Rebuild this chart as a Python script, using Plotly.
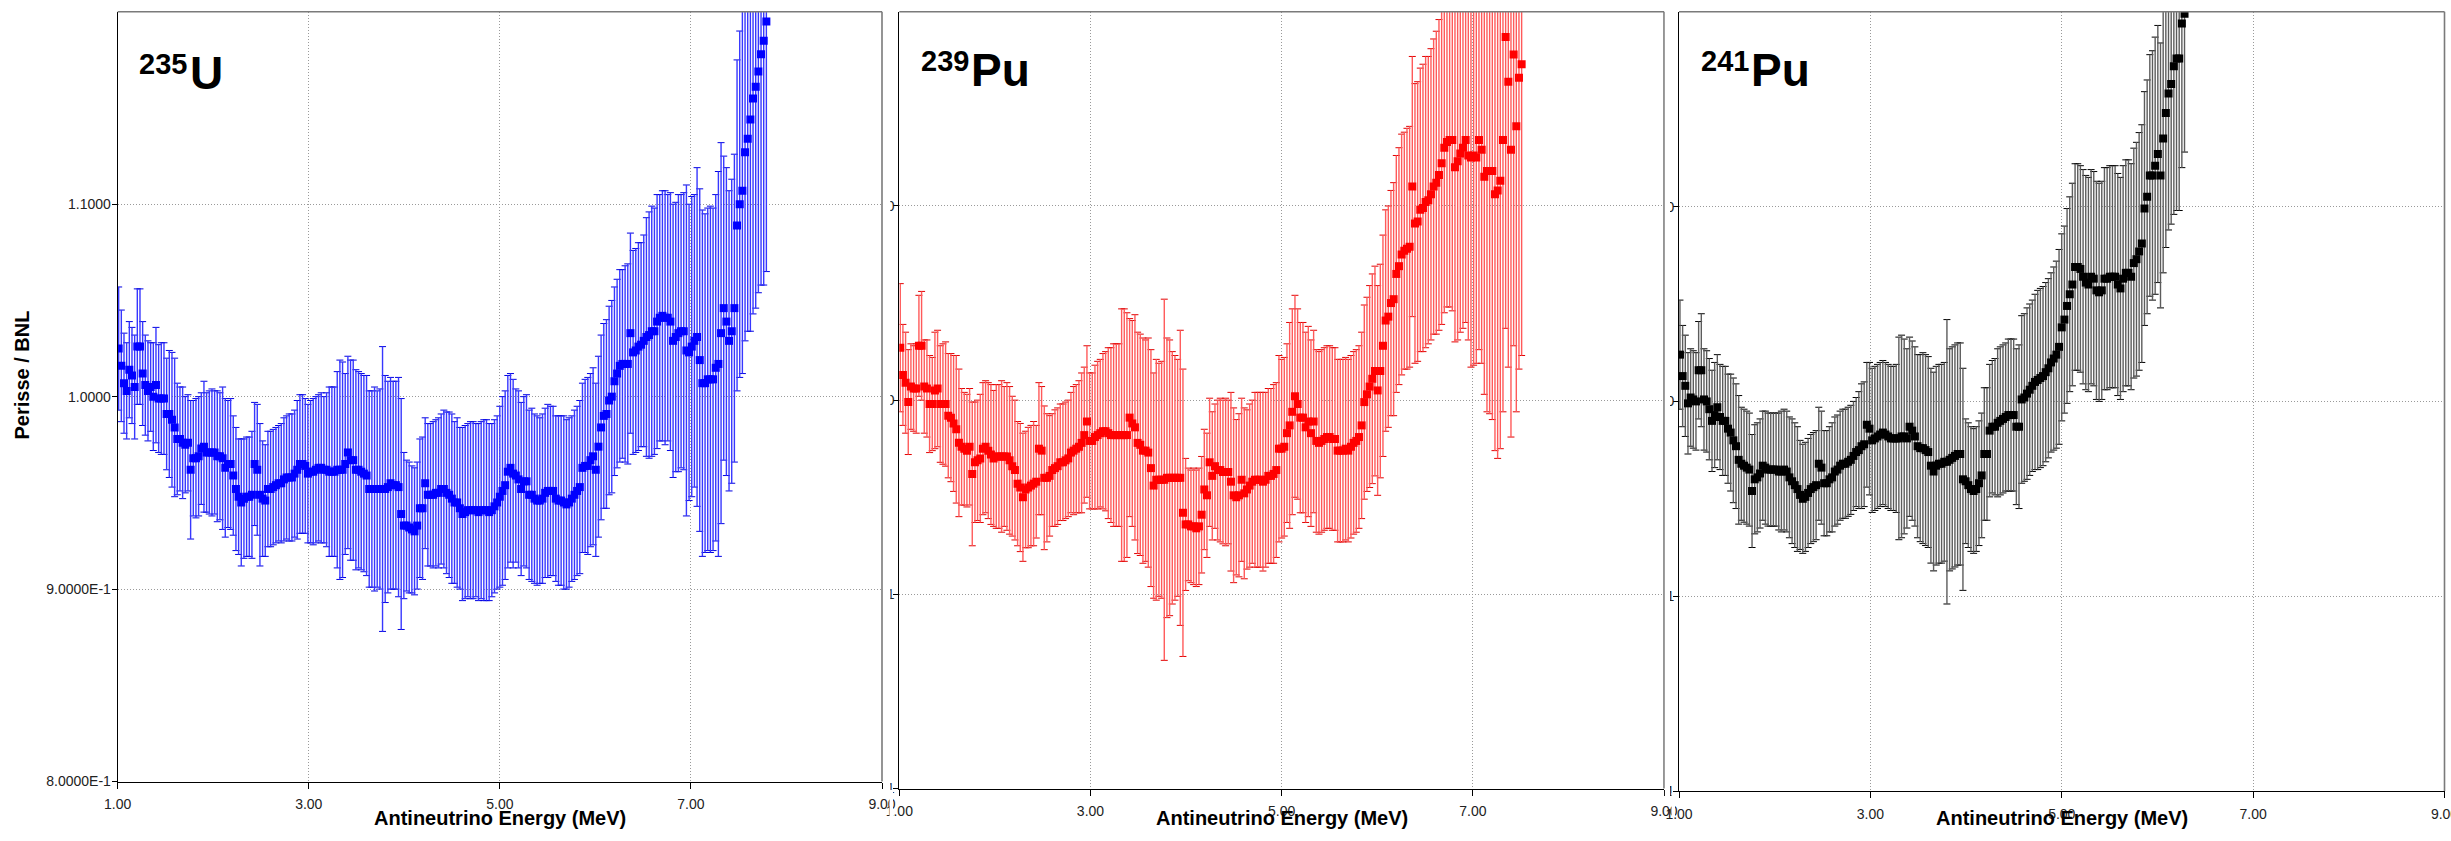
import numpy as np
import plotly.graph_objects as go

# ---------------------------------------------------------------------------
# Perisse / BNL spectrum ratios versus antineutrino energy
# ---------------------------------------------------------------------------
E_START = 1.01      # first bin centre (MeV)
E_STEP = 0.0279     # bin width (MeV)

u235_ratio = [
    1.025, 1.016, 1.007, 1.003, 1.014, 1.011, 1.005, 1.026, 1.026, 1.012,
    1.006, 1.003, 1.005, 1.000, 1.006, 0.999, 0.999, 0.999, 0.991, 0.991,
    0.988, 0.984, 0.978, 0.978, 0.976, 0.975, 0.976, 0.962, 0.968, 0.968,
    0.969, 0.973, 0.974, 0.971, 0.971, 0.971, 0.971, 0.969, 0.969, 0.968,
    0.963, 0.965, 0.965, 0.959, 0.952, 0.948, 0.945, 0.947, 0.948, 0.948,
    0.949, 0.965, 0.962, 0.949, 0.947, 0.946, 0.952, 0.952, 0.953, 0.954,
    0.955, 0.955, 0.957, 0.958, 0.958, 0.958, 0.960, 0.962, 0.965, 0.965,
    0.964, 0.960, 0.961, 0.961, 0.962, 0.963, 0.963, 0.962, 0.962, 0.961,
    0.961, 0.961, 0.962, 0.962, 0.962, 0.965, 0.971, 0.967, 0.967, 0.962,
    0.962, 0.961, 0.960, 0.959, 0.952, 0.952, 0.952, 0.952, 0.952, 0.952,
    0.952, 0.953, 0.955, 0.954, 0.954, 0.953, 0.939, 0.933, 0.933, 0.932,
    0.931, 0.930, 0.933, 0.942, 0.942, 0.955, 0.949, 0.949, 0.949, 0.950,
    0.950, 0.952, 0.952, 0.950, 0.949, 0.947, 0.945, 0.945, 0.942, 0.939,
    0.940, 0.941, 0.941, 0.941, 0.941, 0.940, 0.941, 0.941, 0.941, 0.940,
    0.941, 0.943, 0.945, 0.948, 0.951, 0.954, 0.961, 0.963, 0.960, 0.959,
    0.957, 0.952, 0.956, 0.956, 0.949, 0.949, 0.947, 0.946, 0.946, 0.947,
    0.950, 0.951, 0.951, 0.951, 0.947, 0.946, 0.946, 0.945, 0.944, 0.945,
    0.947, 0.949, 0.951, 0.953, 0.963, 0.964, 0.964, 0.967, 0.969, 0.962,
    0.974, 0.984, 0.990, 0.991, 0.998, 1.000, 1.008, 1.012, 1.016, 1.017,
    1.017, 1.017, 1.033, 1.023, 1.024, 1.026, 1.027, 1.029, 1.031, 1.032,
    1.034, 1.034, 1.039, 1.041, 1.042, 1.041, 1.041, 1.039, 1.029, 1.031,
    1.033, 1.034, 1.034, 1.024, 1.023, 1.026, 1.029, 1.031, 1.019, 1.007,
    1.007, 1.009, 1.009, 1.009, 1.015, 1.017, 1.033, 1.046, 1.039, 1.029,
    1.034, 1.046, 1.089, 1.100, 1.107, 1.127, 1.134, 1.144, 1.155, 1.161,
    1.169, 1.178, 1.185, 1.195,
]
u235_err = [
    0.032, 0.029, 0.026, 0.025, 0.025, 0.025, 0.027, 0.030, 0.030, 0.027,
    0.026, 0.026, 0.023, 0.028, 0.030, 0.028, 0.029, 0.029, 0.029, 0.033,
    0.035, 0.036, 0.029, 0.027, 0.029, 0.025, 0.025, 0.036, 0.030, 0.031,
    0.031, 0.029, 0.034, 0.031, 0.032, 0.033, 0.032, 0.034, 0.033, 0.037,
    0.036, 0.033, 0.034, 0.031, 0.032, 0.030, 0.033, 0.031, 0.031, 0.031,
    0.033, 0.032, 0.034, 0.037, 0.030, 0.029, 0.030, 0.030, 0.030, 0.030,
    0.030, 0.031, 0.032, 0.032, 0.033, 0.033, 0.033, 0.036, 0.036, 0.036,
    0.035, 0.036, 0.037, 0.038, 0.038, 0.038, 0.039, 0.038, 0.040, 0.044,
    0.044, 0.044, 0.051, 0.057, 0.056, 0.047, 0.050, 0.052, 0.052, 0.052,
    0.051, 0.051, 0.051, 0.052, 0.051, 0.051, 0.053, 0.051, 0.052, 0.074,
    0.059, 0.055, 0.055, 0.054, 0.054, 0.057, 0.060, 0.038, 0.034, 0.034,
    0.033, 0.033, 0.033, 0.036, 0.037, 0.034, 0.037, 0.037, 0.038, 0.038,
    0.039, 0.039, 0.041, 0.042, 0.043, 0.044, 0.042, 0.044, 0.042, 0.045,
    0.045, 0.045, 0.046, 0.046, 0.045, 0.046, 0.046, 0.047, 0.047, 0.046,
    0.045, 0.045, 0.045, 0.047, 0.049, 0.049, 0.050, 0.049, 0.049, 0.045,
    0.046, 0.045, 0.044, 0.045, 0.044, 0.045, 0.044, 0.044, 0.043, 0.044,
    0.044, 0.045, 0.044, 0.044, 0.043, 0.044, 0.044, 0.045, 0.044, 0.044,
    0.043, 0.044, 0.044, 0.045, 0.044, 0.045, 0.046, 0.045, 0.046, 0.045,
    0.047, 0.048, 0.048, 0.049, 0.049, 0.050, 0.049, 0.049, 0.050, 0.049,
    0.051, 0.052, 0.052, 0.053, 0.053, 0.054, 0.053, 0.055, 0.062, 0.064,
    0.065, 0.064, 0.066, 0.064, 0.065, 0.066, 0.064, 0.067, 0.071, 0.070,
    0.072, 0.071, 0.072, 0.086, 0.077, 0.078, 0.076, 0.088, 0.089, 0.090,
    0.088, 0.089, 0.090, 0.089, 0.090, 0.100, 0.099, 0.079, 0.080, 0.078,
    0.079, 0.080, 0.086, 0.090, 0.095, 0.098, 0.100, 0.110, 0.112, 0.115,
    0.115, 0.120, 0.127, 0.130,
]

pu239_ratio = [
    1.027, 1.013, 1.009, 0.999, 1.007, 1.006, 1.006, 1.028, 1.028, 1.007,
    1.006, 0.998, 0.998, 1.005, 1.006, 0.998, 0.998, 0.998, 0.992, 0.991,
    0.988, 0.985, 0.978, 0.976, 0.975, 0.974, 0.976, 0.962, 0.968, 0.969,
    0.970, 0.975, 0.976, 0.974, 0.972, 0.970, 0.971, 0.971, 0.971, 0.971,
    0.971, 0.969, 0.966, 0.964, 0.957, 0.955, 0.950, 0.954, 0.955, 0.956,
    0.957, 0.958, 0.975, 0.974, 0.960, 0.960, 0.961, 0.964, 0.965, 0.966,
    0.968, 0.968, 0.969, 0.970, 0.973, 0.974, 0.975, 0.976, 0.978, 0.982,
    0.989, 0.979, 0.979, 0.981, 0.982, 0.983, 0.984, 0.984, 0.983, 0.982,
    0.982, 0.982, 0.982, 0.982, 0.982, 0.982, 0.991, 0.988, 0.986, 0.978,
    0.977, 0.974, 0.974, 0.973, 0.965, 0.956, 0.959, 0.959, 0.959, 0.959,
    0.960, 0.960, 0.960, 0.960, 0.960, 0.960, 0.942, 0.936, 0.936, 0.935,
    0.935, 0.934, 0.935, 0.941, 0.954, 0.951, 0.968, 0.961, 0.966, 0.964,
    0.964, 0.963, 0.963, 0.963, 0.958, 0.951, 0.950, 0.951, 0.959, 0.952,
    0.954, 0.956, 0.958, 0.959, 0.959, 0.959, 0.958, 0.959, 0.961, 0.961,
    0.962, 0.964, 0.975, 0.975, 0.976, 0.983, 0.987, 0.994, 1.002, 0.998,
    0.991, 0.991, 0.986, 0.989, 0.983, 0.989, 0.979, 0.978, 0.979, 0.980,
    0.981, 0.981, 0.980, 0.980, 0.974, 0.974, 0.974, 0.975, 0.974, 0.976,
    0.978, 0.979, 0.981, 0.987, 0.999, 1.003, 1.007, 1.011, 1.015, 1.005,
    1.015, 1.028, 1.041, 1.043, 1.050, 1.052, 1.065, 1.069, 1.075, 1.077,
    1.078, 1.079, 1.110, 1.091, 1.092, 1.098, 1.099, 1.102, 1.103, 1.106,
    1.110, 1.112, 1.116, 1.122, 1.130, 1.133, 1.134, 1.134, 1.120, 1.123,
    1.127, 1.130, 1.134, 1.126, 1.125, 1.126, 1.125, 1.134, 1.129, 1.115,
    1.118, 1.118, 1.118, 1.106, 1.108, 1.113, 1.134, 1.187, 1.164, 1.129,
    1.178, 1.141, 1.166, 1.173,
]
pu239_err = [
    0.033, 0.026, 0.026, 0.027, 0.022, 0.022, 0.023, 0.026, 0.028, 0.024,
    0.025, 0.025, 0.024, 0.030, 0.030, 0.030, 0.031, 0.032, 0.032, 0.033,
    0.035, 0.038, 0.038, 0.030, 0.029, 0.029, 0.030, 0.037, 0.031, 0.031,
    0.033, 0.034, 0.034, 0.035, 0.036, 0.035, 0.037, 0.037, 0.039, 0.036,
    0.038, 0.038, 0.036, 0.036, 0.032, 0.033, 0.033, 0.030, 0.031, 0.031,
    0.032, 0.029, 0.034, 0.033, 0.037, 0.033, 0.031, 0.029, 0.030, 0.030,
    0.030, 0.030, 0.030, 0.030, 0.031, 0.033, 0.033, 0.034, 0.036, 0.035,
    0.039, 0.035, 0.035, 0.037, 0.038, 0.038, 0.040, 0.041, 0.044, 0.045,
    0.047, 0.047, 0.047, 0.065, 0.065, 0.063, 0.051, 0.053, 0.058, 0.057,
    0.057, 0.058, 0.057, 0.059, 0.061, 0.058, 0.062, 0.060, 0.061, 0.093,
    0.072, 0.071, 0.065, 0.063, 0.061, 0.076, 0.074, 0.034, 0.029, 0.029,
    0.030, 0.030, 0.030, 0.030, 0.031, 0.032, 0.033, 0.033, 0.032, 0.036,
    0.037, 0.037, 0.038, 0.037, 0.046, 0.045, 0.040, 0.042, 0.042, 0.044,
    0.041, 0.042, 0.042, 0.045, 0.045, 0.045, 0.046, 0.045, 0.045, 0.045,
    0.046, 0.045, 0.048, 0.046, 0.046, 0.046, 0.053, 0.053, 0.052, 0.049,
    0.049, 0.049, 0.049, 0.049, 0.048, 0.047, 0.047, 0.047, 0.047, 0.047,
    0.047, 0.047, 0.047, 0.047, 0.047, 0.047, 0.047, 0.047, 0.047, 0.047,
    0.047, 0.047, 0.047, 0.048, 0.050, 0.050, 0.052, 0.054, 0.054, 0.054,
    0.055, 0.057, 0.057, 0.057, 0.058, 0.060, 0.061, 0.061, 0.062, 0.061,
    0.062, 0.062, 0.067, 0.072, 0.072, 0.073, 0.074, 0.075, 0.074, 0.075,
    0.076, 0.078, 0.080, 0.083, 0.085, 0.085, 0.086, 0.088, 0.090, 0.092,
    0.092, 0.093, 0.094, 0.095, 0.108, 0.108, 0.106, 0.108, 0.110, 0.112,
    0.124, 0.125, 0.128, 0.132, 0.138, 0.138, 0.140, 0.150, 0.147, 0.148,
    0.150, 0.147, 0.150, 0.150,
]

pu241_ratio = [
    1.024, 1.013, 1.008, 0.999, 1.002, 1.001, 1.000, 1.016, 1.016, 1.001,
    1.000, 0.996, 0.990, 0.993, 0.997, 0.992, 0.990, 0.990, 0.986, 0.984,
    0.980, 0.977, 0.970, 0.968, 0.967, 0.966, 0.965, 0.954, 0.960, 0.961,
    0.963, 0.967, 0.966, 0.965, 0.965, 0.965, 0.965, 0.964, 0.964, 0.965,
    0.964, 0.961, 0.959, 0.957, 0.955, 0.952, 0.950, 0.951, 0.953, 0.955,
    0.956, 0.957, 0.968, 0.966, 0.958, 0.958, 0.960, 0.961, 0.964, 0.965,
    0.967, 0.968, 0.968, 0.969, 0.970, 0.972, 0.974, 0.975, 0.977, 0.978,
    0.988, 0.986, 0.980, 0.981, 0.982, 0.983, 0.984, 0.983, 0.982, 0.981,
    0.981, 0.981, 0.981, 0.982, 0.982, 0.981, 0.987, 0.985, 0.982, 0.977,
    0.976, 0.976, 0.975, 0.974, 0.967, 0.964, 0.967, 0.968, 0.968, 0.969,
    0.969, 0.970, 0.971, 0.972, 0.973, 0.973, 0.960, 0.959, 0.957, 0.955,
    0.954, 0.955, 0.958, 0.962, 0.973, 0.973, 0.985, 0.987, 0.987, 0.989,
    0.990, 0.991, 0.992, 0.993, 0.993, 0.993, 0.987, 0.987, 1.001, 1.002,
    1.004, 1.006, 1.008, 1.010, 1.011, 1.012, 1.013, 1.015, 1.017, 1.020,
    1.022, 1.024, 1.028, 1.038, 1.042, 1.049, 1.055, 1.060, 1.069, 1.069,
    1.068, 1.064, 1.061, 1.060, 1.064, 1.063, 1.057, 1.056, 1.057, 1.063,
    1.063, 1.064, 1.064, 1.064, 1.060, 1.058, 1.063, 1.066, 1.066, 1.064,
    1.071, 1.073, 1.077, 1.081, 1.099, 1.105, 1.116, 1.116, 1.121, 1.127,
    1.116, 1.135, 1.148, 1.158, 1.163, 1.172, 1.176, 1.176, 1.194, 1.199,
]
pu241_err = [
    0.028, 0.026, 0.026, 0.026, 0.025, 0.025, 0.025, 0.025, 0.029, 0.026,
    0.026, 0.026, 0.026, 0.027, 0.027, 0.027, 0.028, 0.028, 0.028, 0.030,
    0.032, 0.032, 0.033, 0.029, 0.029, 0.029, 0.029, 0.029, 0.028, 0.028,
    0.028, 0.028, 0.029, 0.029, 0.029, 0.029, 0.029, 0.030, 0.031, 0.031,
    0.031, 0.031, 0.032, 0.032, 0.032, 0.028, 0.028, 0.028, 0.028, 0.028,
    0.028, 0.028, 0.029, 0.029, 0.027, 0.027, 0.027, 0.028, 0.028, 0.028,
    0.028, 0.028, 0.028, 0.028, 0.028, 0.028, 0.028, 0.030, 0.032, 0.032,
    0.032, 0.034, 0.037, 0.037, 0.037, 0.037, 0.037, 0.037, 0.037, 0.037,
    0.037, 0.038, 0.052, 0.052, 0.050, 0.046, 0.046, 0.046, 0.046, 0.047,
    0.048, 0.049, 0.049, 0.049, 0.050, 0.051, 0.051, 0.051, 0.051, 0.051,
    0.073, 0.057, 0.057, 0.057, 0.057, 0.057, 0.057, 0.032, 0.032, 0.032,
    0.032, 0.032, 0.032, 0.032, 0.034, 0.034, 0.034, 0.034, 0.035, 0.038,
    0.038, 0.038, 0.038, 0.039, 0.039, 0.039, 0.040, 0.042, 0.043, 0.043,
    0.044, 0.044, 0.044, 0.045, 0.046, 0.046, 0.046, 0.046, 0.046, 0.046,
    0.047, 0.048, 0.050, 0.048, 0.048, 0.050, 0.050, 0.052, 0.053, 0.053,
    0.053, 0.055, 0.055, 0.055, 0.055, 0.055, 0.056, 0.056, 0.056, 0.057,
    0.057, 0.057, 0.057, 0.057, 0.057, 0.057, 0.058, 0.058, 0.058, 0.058,
    0.059, 0.060, 0.061, 0.061, 0.060, 0.060, 0.062, 0.064, 0.066, 0.066,
    0.068, 0.069, 0.069, 0.070, 0.072, 0.076, 0.078, 0.078, 0.074, 0.071,
]

AXIS_TICKS_X = [1, 3, 5, 7, 9]
AXIS_LABELS_X = ["1.00", "3.00", "5.00", "7.00", "9.00"]
AXIS_TICKS_Y = [0.8, 0.9, 1.0, 1.1]
AXIS_LABELS_Y = ["8.0000E-1", "9.0000E-1", "1.0000", "1.1000"]
# the inner panels only keep the last character of their y labels
AXIS_LABELS_Y_CUT = [s[-1] for s in AXIS_LABELS_Y]

panels = [
    dict(sup="235", sym="U", ratio=u235_ratio, err=u235_err,
         marker="#0000ff", stem="rgb(55,55,255)", cap="rgb(0,0,225)"),
    dict(sup="239", sym="Pu", ratio=pu239_ratio, err=pu239_err,
         marker="#ff0000", stem="rgb(255,90,90)", cap="rgb(225,0,0)"),
    dict(sup="241", sym="Pu", ratio=pu241_ratio, err=pu241_err,
         marker="#000000", stem="rgb(92,92,92)", cap="rgb(0,0,0)"),
]

# page geometry (pixels)
W, H = 2451, 841
frames = [
    (117.7, 882.0, 11.8, 781.5),
    (899.3, 1664.0, 11.8, 788.5),
    (1679.0, 2444.5, 11.8, 791.0),
]


def px(x):
    return x / W


def py(y):
    return 1 - y / H


FONT = "Liberation Sans, Arial, sans-serif"
fig = go.Figure()

for k, (p, (x0, x1, y0, y1)) in enumerate(zip(panels, frames), start=1):
    n = len(p["ratio"])
    energy = np.round(E_START + E_STEP * np.arange(n), 4)
    ratio = np.array(p["ratio"])
    err = np.array(p["err"])
    xa, ya = ("x", "y") if k == 1 else (f"x{k}", f"y{k}")

    # error-bar end caps
    fig.add_trace(go.Scatter(
        x=np.concatenate([energy, energy]),
        y=np.concatenate([ratio + err, ratio - err]),
        mode="markers", xaxis=xa, yaxis=ya, showlegend=False, hoverinfo="skip",
        marker=dict(symbol="line-ew", size=5, color=p["cap"],
                    line=dict(color=p["cap"], width=1)),
    ))
    # points with their error bars
    fig.add_trace(go.Scatter(
        x=energy, y=ratio, mode="markers", xaxis=xa, yaxis=ya, showlegend=False,
        marker=dict(symbol="square", size=8, color=p["marker"], line=dict(width=0)),
        error_y=dict(type="data", array=err, symmetric=True, color=p["stem"],
                     thickness=1.4, width=0),
    ))

    axis_common = dict(
        showline=True, linecolor="black", linewidth=1, mirror=False,
        ticks="outside", tickcolor="black", zeroline=False, automargin=False,
        showgrid=True, gridcolor="#9a9a9a", gridwidth=1, griddash="1px,2px",
        tickfont=dict(family=FONT, size=14, color="#222222"),
        ticklabeloverflow="allow",
    )
    fig.layout[f"xaxis{'' if k == 1 else k}"] = dict(
        axis_common, domain=[px(x0), px(x1)], range=[1, 9], anchor=ya,
        tickmode="array", tickvals=AXIS_TICKS_X, ticktext=AXIS_LABELS_X,
        ticklen=6, ticklabelstandoff=4,
    )
    fig.layout[f"yaxis{'' if k == 1 else k}"] = dict(
        axis_common, domain=[py(y1), py(y0)], range=[0.8, 1.2], anchor=xa,
        tickmode="array", tickvals=AXIS_TICKS_Y,
        ticktext=AXIS_LABELS_Y if k == 1 else AXIS_LABELS_Y_CUT,
        ticklen=5, ticklabelstandoff=-2 if k == 1 else -4,
    )

    dref_x = "x domain" if k == 1 else f"x{k} domain"
    dref_y = "y domain" if k == 1 else f"y{k} domain"
    # grey top and right frame edges
    for (a0, b0, a1, b1) in [(0, 1, 1, 1), (1, 0, 1, 1)]:
        fig.add_shape(type="line", xref=dref_x, yref=dref_y,
                      x0=a0, y0=b0, x1=a1, y1=b1,
                      line=dict(color="#7a7a7a", width=1.6))

    # isotope label: mass number raised, element symbol large
    dy = 1 if k == 1 else -2
    fig.add_annotation(
        xref="paper", yref="paper", x=px(x0 + 19.5), y=py(45 + dy),
        xanchor="left", yanchor="top", showarrow=False,
        text=p["sup"], font=dict(family=FONT, size=29, color="black", weight="bold"),
    )
    fig.add_annotation(
        xref="paper", yref="paper", x=px(x0 + 19.5 + 50.5), y=py(44 + dy),
        xanchor="left", yanchor="top", showarrow=False,
        text=p["sym"], font=dict(family=FONT, size=46, color="black", weight="bold"),
    )

    # x-axis title under each panel
    fig.add_annotation(
        xref="paper", yref="paper", x=px((x0 + x1) / 2), y=py(805),
        xanchor="center", yanchor="top", showarrow=False,
        text="Antineutrino Energy (MeV)",
        font=dict(family=FONT, size=20, color="black", weight="bold"),
    )

# y-axis title
fig.add_annotation(
    xref="paper", yref="paper", x=px(21.5), y=py(375),
    xanchor="center", yanchor="middle", showarrow=False, textangle=-90,
    text="Perisse / BNL",
    font=dict(family=FONT, size=20, color="black", weight="bold"),
)

# the panels sit edge to edge, so each one's left tick labels are cut off
for (a, b, c, d) in [
    (883.5, 890.3, 0, 794),
    (889.5, 893.0, 790, 816),
    (1664.9, 1670.0, 0, 796),
    (1671.5, 1675.0, 793, 816),
]:
    fig.add_shape(type="rect", xref="paper", yref="paper", layer="above",
                  x0=px(a), x1=px(b), y0=py(d), y1=py(c),
                  fillcolor="white", line=dict(width=0))

fig.update_layout(
    width=W, height=H,
    margin=dict(l=0, r=0, t=0, b=0, pad=0),
    paper_bgcolor="white", plot_bgcolor="white",
    showlegend=False,
)

fig.write_html("out.html", post_script="document.body.style.margin='0px';")
